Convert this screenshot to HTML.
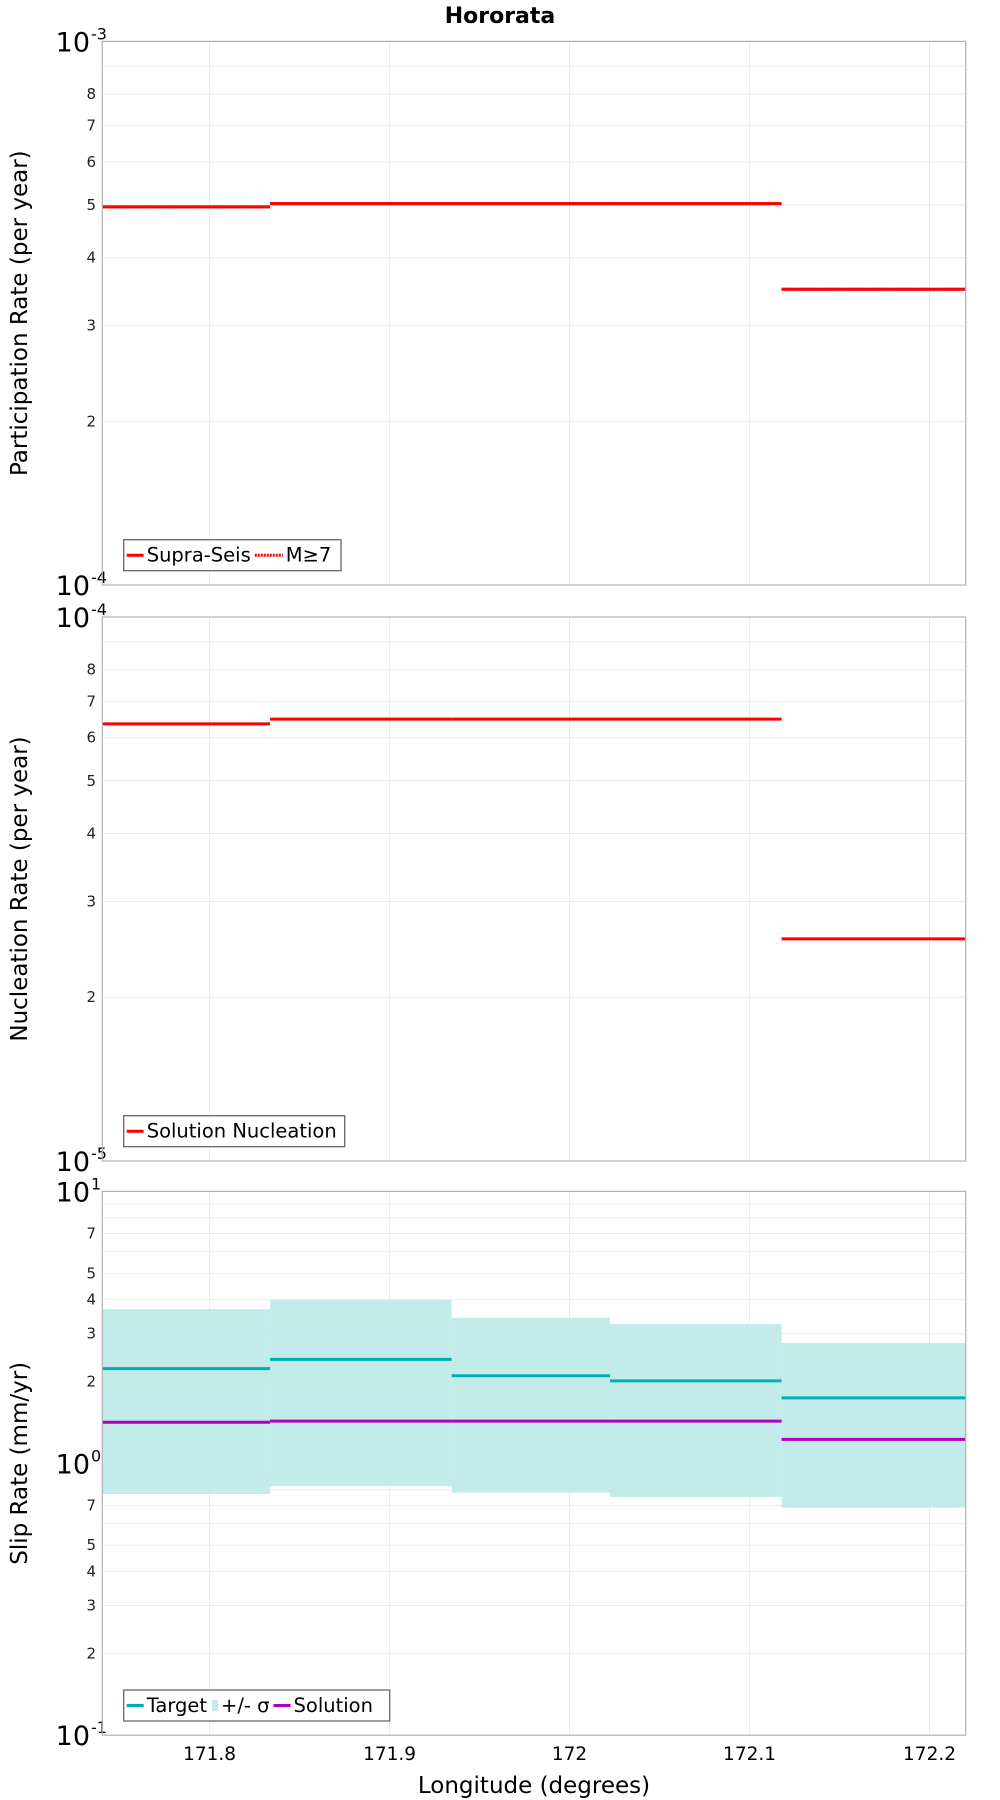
<!DOCTYPE html>
<html><head><meta charset="utf-8"><style>
html,body{margin:0;padding:0;background:#fff}
svg{display:block;font-family:"DejaVu Sans","Liberation Sans",sans-serif}
</style></head><body>
<svg id="chart" width="1000" height="1800" viewBox="0 0 1000 1800" xmlns="http://www.w3.org/2000/svg">
<text x="500" y="23" text-anchor="middle" font-size="22" font-weight="bold">Hororata</text>
<text x="534" y="1793" text-anchor="middle" font-size="23">Longitude (degrees)</text>
</svg>
<script>
const binEdges=[171.7404,171.8336,171.9345,172.0225,172.1178,172.2201];
const partSupra=[4.96e-4,5.03e-4,5.03e-4,5.03e-4,3.50e-4];
const partM7=[4.96e-4,5.03e-4,5.03e-4,5.03e-4,3.50e-4];
const nuclSol=[6.36e-5,6.49e-5,6.49e-5,6.49e-5,2.56e-5];
const slipTarget=[2.23,2.41,2.10,2.01,1.74];
const slipUpper=[3.69,3.99,3.43,3.25,2.77];
const slipLower=[0.771,0.824,0.780,0.752,0.687];
const slipSolution=[1.415,1.43,1.43,1.43,1.225];
const xTicks=[171.8,171.9,172.0,172.1,172.2];
const xTickLabels=["171.8","171.9","172","172.1","172.2"];

const NS="http://www.w3.org/2000/svg";
const svg=document.getElementById('chart');
const L=102.3,R=965.7,XMIN=171.7404,XMAX=172.2201;
function xs(v){return L+(v-XMIN)/(XMAX-XMIN)*(R-L);}
function mk(tag,attrs,parent){const e=document.createElementNS(NS,tag);for(const k in attrs)e.setAttribute(k,attrs[k]);(parent||svg).appendChild(e);return e;}

const panels=[
 {top:41.4,bot:585,lo:-4,hi:-3,title:"Participation Rate (per year)",labels:[2,3,4,5,6,7,8]},
 {top:617,bot:1161,lo:-5,hi:-4,title:"Nucleation Rate (per year)",labels:[2,3,4,5,6,7,8]},
 {top:1191.4,bot:1735.2,lo:-1,hi:1,title:"Slip Rate (mm/yr)",labels:[2,3,4,5,7]}
];
function ysF(p){return v=>p.bot-(Math.log10(v)-p.lo)/(p.hi-p.lo)*(p.bot-p.top);}

panels.forEach((p,pi)=>{
 const g=mk('g',{});
 
 
 const ys=ysF(p);
 mk('rect',{x:L,y:p.top,width:R-L,height:p.bot-p.top,fill:'#fff'},g);
 for(let d=p.lo;d<p.hi;d++){
  for(let m=1;m<=9;m++){
   const y=ys(m*Math.pow(10,d));
   if(m>1){const gl=mk('line',{x1:L,x2:R,y1:y,y2:y,stroke:'#ebebeb','stroke-width':1},g);
    
    }
   if(p.labels.includes(m)&&m>1){const t=mk('text',{x:96,y:y+5,'text-anchor':'end','font-size':15,fill:'#222'},g);t.textContent=m;
    
    }
  }
 }
 xTicks.forEach(v=>{const gl=mk('line',{x1:xs(v),x2:xs(v),y1:p.top,y2:p.bot,stroke:'#ebebeb','stroke-width':1},g);
  
  });
 for(let d=p.lo;d<=p.hi;d++){
  const y=ys(Math.pow(10,d));
  const t=mk('text',{x:90,y:y+10,'text-anchor':'end','font-size':27},g);t.textContent='10';
  
  
  const e=mk('text',{x:91,y:y-2,'font-size':16},g);e.textContent=String(d);
  
  
 }
 const cy=(p.top+p.bot)/2;
 const yt=mk('text',{x:0,y:0,'text-anchor':'middle','font-size':23,transform:`translate(27,${cy}) rotate(-90)`},g);
 yt.textContent=p.title;
 
 
 p.g=g;p.ys=ys;
});

function steps(g,ys,vals,color,w,dash,name){
 vals.forEach((v,i)=>{
  const a={x1:xs(binEdges[i]),x2:xs(binEdges[i+1]),y1:ys(v),y2:ys(v),stroke:color,'stroke-width':w};
  if(dash)a['stroke-dasharray']=dash;
  const l=mk('line',a,g);
  
  
 });
}
steps(panels[0].g,panels[0].ys,partSupra,'#ff0000',3,null,'supra-seis-step');
steps(panels[0].g,panels[0].ys,partM7,'#ff0000',3,'2 1','m7-step');
steps(panels[1].g,panels[1].ys,nuclSol,'#ff0000',3,null,'solution-nucleation-step');
const p3=panels[2];
slipUpper.forEach((u,i)=>{
 const x1=xs(binEdges[i]),x2=xs(binEdges[i+1]);
 const r=mk('rect',{x:x1,y:p3.ys(u),width:x2-x1,height:p3.ys(slipLower[i])-p3.ys(u),fill:'#c3ebea'},p3.g);
 
 
});
steps(p3.g,p3.ys,slipTarget,'#00b0b0',3,null,'target-step');
steps(p3.g,p3.ys,slipSolution,'#b000b8',3,null,'solution-step');

panels.forEach(p=>{const b=mk('rect',{x:L,y:p.top,width:R-L,height:p.bot-p.top,fill:'none',stroke:'#b0b0b0','stroke-width':1.2},p.g);
 
 });

xTicks.forEach((v,i)=>{const t=mk('text',{x:xs(v),y:1760,'text-anchor':'middle','font-size':18.5},svg);t.textContent=xTickLabels[i];
 
 });

function legend(g,x,y,w,items){
 const lg=mk('g',{},g);
 
 
 mk('rect',{x:x,y:y,width:w,height:31,fill:'#fff',stroke:'#666','stroke-width':1.3},lg);
 let cx=x+3;
 items.forEach(it=>{
  const ie=mk('g',{},lg);
  
  
  if(it.type==='rect'){mk('rect',{x:cx+1,y:y+10,width:6,height:11,fill:it.color},ie);cx+=10;}
  else{const a={x1:cx,x2:cx+it.lw,y1:y+15.5,y2:y+15.5,stroke:it.color,'stroke-width':3};if(it.dash)a['stroke-dasharray']=it.dash;mk('line',a,ie);cx+=it.lw+3;}
  const t=mk('text',{x:cx,y:y+22,'font-size':19.5},ie);t.textContent=it.label;
  cx+=t.getComputedTextLength()+4;
 });
}
legend(panels[0].g,123.7,539.7,217.3,[{color:'#ff0000',label:'Supra-Seis',lw:17},{color:'#ff0000',dash:'2 1',label:'M≥7',lw:28}]);
legend(panels[1].g,123.7,1115.7,221,[{color:'#ff0000',label:'Solution Nucleation',lw:17}]);
legend(p3.g,123.7,1690,266,[{color:'#00b0b0',label:'Target',lw:17},{type:'rect',color:'#c3ebea',label:'+/- σ'},{color:'#b000b8',label:'Solution',lw:17}]);
</script>
</body></html>
